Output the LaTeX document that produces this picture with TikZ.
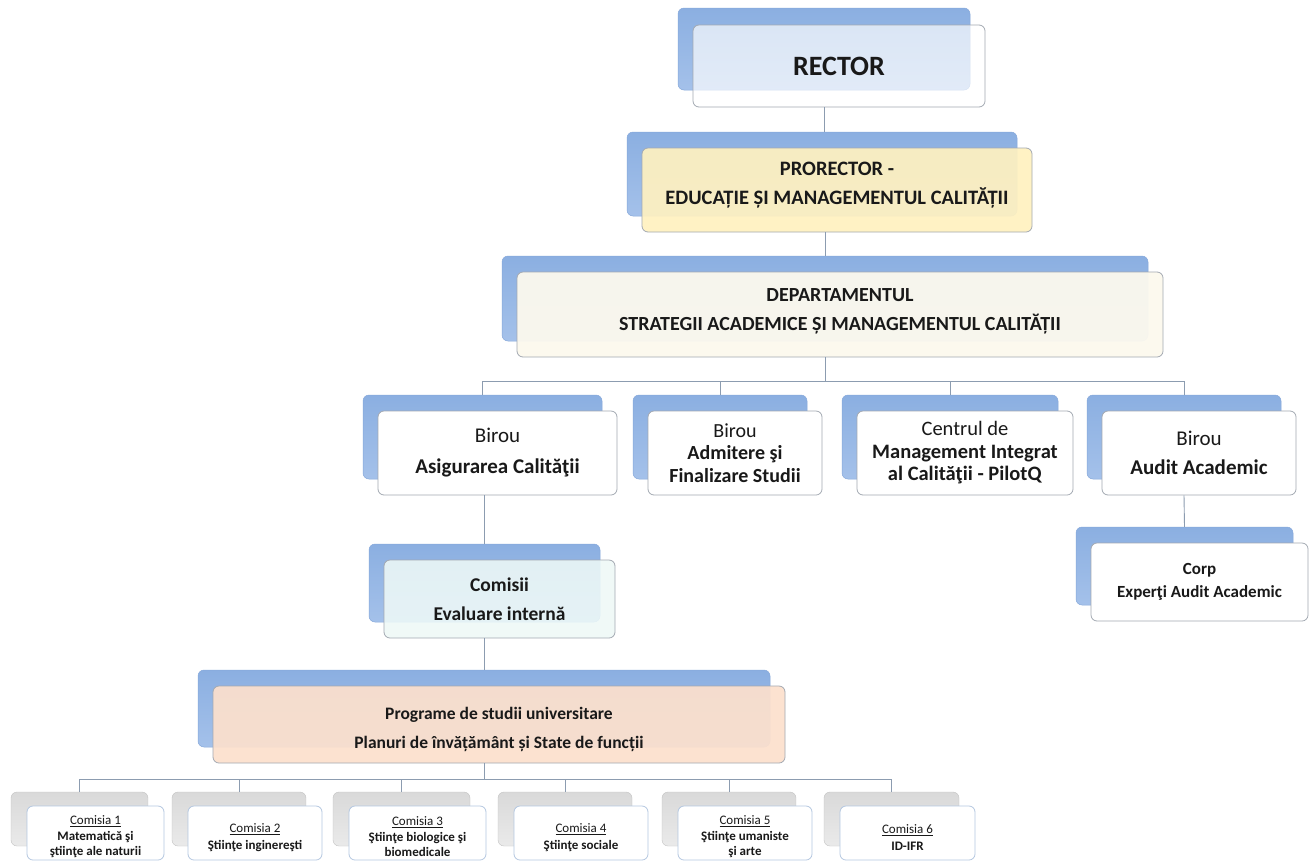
\documentclass[tikz,border=0pt]{standalone}
\usepackage{fontspec}
\setmainfont{Carlito}
\definecolor{bluetop}{HTML}{8BAFE1}
\definecolor{bluebot}{HTML}{A4C1EA}
\definecolor{blueedge}{HTML}{86A8DA}
\definecolor{graytop}{HTML}{D9D9D9}
\definecolor{graybot}{HTML}{EAEAEA}
\definecolor{frontedge}{HTML}{A3A9B2}
\definecolor{smalledge}{HTML}{B4C7E0}
\definecolor{connc}{HTML}{8C9CB0}
\definecolor{yellowf}{HTML}{FFF1C0}
\definecolor{creamf}{HTML}{FCF9EE}
\definecolor{cyanf}{HTML}{EEF9F7}
\definecolor{peachf}{HTML}{FCE0CD}
\newcommand\pushup[1]{\rule[-#1pt]{0pt}{1pt}}
\newcommand\pushdown[1]{\rule{0pt}{#1pt}}
\tikzset{
  backbox/.style={rectangle, rounded corners=6pt, draw=blueedge, line width=0.5pt,
    top color=bluetop, bottom color=bluebot, inner sep=0pt},
  graybackbox/.style={rectangle, rounded corners=6pt, draw=graytop!90!black, line width=0.4pt,
    top color=graytop, bottom color=graybot, inner sep=0pt},
  frontbox/.style={rectangle, rounded corners=6pt, draw=frontedge, line width=0.8pt,
    fill=white, align=center, inner sep=2pt, text=black!90},
  smallbox/.style={rectangle, rounded corners=6pt, draw=smalledge, line width=0.8pt,
    fill=white, align=center, inner sep=1pt, text=black!90},
  conn/.style={draw=connc, line width=0.9pt},
}
\begin{document}
\begin{tikzpicture}[x=1pt, y=-1pt]
\useasboundingbox (0,0) rectangle (1312,863);
\fill[white] (0,0) rectangle (1312,863);

% RECTOR
\node[backbox, minimum width=292pt, minimum height=82pt] (rectb) at (824,49) {};
\node[frontbox, fill=white, fill opacity=0.68, text opacity=1, minimum width=292pt, minimum height=82pt,
  font=\fontsize{28}{32}\selectfont\bfseries] (rect) at (839,66) {RECTOR};

% PRORECTOR
\node[backbox, minimum width=390pt, minimum height=84pt] (prob) at (822,174) {};
\node[frontbox, fill=yellowf, fill opacity=0.92, text opacity=1, minimum width=390pt, minimum height=84pt,
  font=\fontsize{20.5}{29}\selectfont\bfseries] (pro) at (837,190) {PRORECTOR -\\EDUCAȚIE ȘI MANAGEMENTUL CALITĂȚII\pushup{13}};

% DEPARTAMENTUL
\node[backbox, minimum width=646pt, minimum height=85pt] (depb) at (825,298.5) {};
\node[frontbox, fill=creamf, fill opacity=0.95, text opacity=1, minimum width=646pt, minimum height=85pt,
  font=\fontsize{20}{29}\selectfont\bfseries] (dep) at (840,314.5) {DEPARTAMENTUL\\STRATEGII ACADEMICE ȘI MANAGEMENTUL CALITĂȚII\pushup{10}};

% Level 3
\node[backbox, minimum width=239pt, minimum height=84pt] (asigb) at (482.5,437) {};
\node[frontbox, minimum width=239pt, minimum height=84pt, font=\fontsize{21}{31}\selectfont] (asig) at (497.5,453)
  {Birou\\\textbf{Asigurarea Calităţii}};

\node[backbox, minimum width=174pt, minimum height=84pt] (admb) at (720,437) {};
\node[frontbox, minimum width=174pt, minimum height=84pt, font=\fontsize{20}{22.5}\selectfont] (adm) at (735,453)
  {Birou\\\textbf{Admitere şi}\\\textbf{Finalizare Studii}};

\node[backbox, minimum width=216pt, minimum height=84pt] (centb) at (950,437) {};
\node[frontbox, minimum width=216pt, minimum height=84pt, font=\fontsize{20.5}{22.5}\selectfont] (cent) at (965,453)
  {Centrul de\\\textbf{Management Integrat}\\\textbf{al Calităţii - PilotQ}};

\node[backbox, minimum width=194pt, minimum height=84pt] (audb) at (1184,437) {};
\node[frontbox, minimum width=194pt, minimum height=84pt, font=\fontsize{21}{29}\selectfont] (aud) at (1199,453)
  {Birou\\\textbf{Audit Academic}};

% Corp
\node[backbox, minimum width=217pt, minimum height=78pt] (corpb) at (1184.5,566) {};
\node[frontbox, minimum width=217pt, minimum height=78pt, font=\fontsize{17}{23}\selectfont\bfseries] (corp) at (1199.5,582)
  {Corp\\Experţi Audit Academic};

% Comisii
\node[backbox, minimum width=231pt, minimum height=78pt] (comib) at (484.5,583) {};
\node[frontbox, fill=cyanf, fill opacity=0.88, text opacity=1, minimum width=231pt, minimum height=78pt,
  font=\fontsize{19.5}{29}\selectfont\bfseries] (comi) at (499.5,599) {Comisii\\Evaluare internă};

% Programe
\node[backbox, minimum width=572pt, minimum height=77pt] (progb) at (484,708.5) {};
\node[frontbox, fill=peachf, fill opacity=0.93, text opacity=1, minimum width=572pt, minimum height=77pt,
  font=\fontsize{17.5}{29}\selectfont\bfseries] (prog) at (499,724.5)
  {\pushdown{22}Programe de studii universitare\\Planuri de învățământ și State de funcții};

% Comisia boxes
\node[graybackbox, minimum width=137pt, minimum height=54pt] (c1b) at (79.5,819) {};
\node[smallbox, minimum width=137pt, minimum height=54pt, font=\fontsize{13}{15.5}\selectfont] (c1) at (95.5,833)
  {\pushdown{17}\underline{Comisia 1}\\\textbf{Matematică şi}\\\textbf{ştiinţe ale naturii}};
\node[graybackbox, minimum width=134pt, minimum height=54pt] (c2b) at (239,819) {};
\node[smallbox, minimum width=134pt, minimum height=54pt, font=\fontsize{13}{17}\selectfont] (c2) at (255,833)
  {\pushdown{18}\underline{Comisia 2}\\\textbf{Ştiinţe inginereşti}};
\node[graybackbox, minimum width=137pt, minimum height=54pt] (c3b) at (401.5,819) {};
\node[smallbox, minimum width=137pt, minimum height=54pt, font=\fontsize{13}{15.5}\selectfont] (c3) at (417.5,833)
  {\pushdown{17}\underline{Comisia 3}\\\textbf{Ştiinţe biologice şi}\\\textbf{biomedicale}};
\node[graybackbox, minimum width=134pt, minimum height=54pt] (c4b) at (565,819) {};
\node[smallbox, minimum width=134pt, minimum height=54pt, font=\fontsize{13}{17}\selectfont] (c4) at (581,833)
  {\pushdown{18}\underline{Comisia 4}\\\textbf{Ştiinţe sociale}};
\node[graybackbox, minimum width=134pt, minimum height=54pt] (c5b) at (729,819) {};
\node[smallbox, minimum width=134pt, minimum height=54pt, font=\fontsize{13}{15.5}\selectfont] (c5) at (745,833)
  {\pushdown{17}\underline{Comisia 5}\\\textbf{Ştiinţe umaniste}\\\textbf{şi arte}};
\node[graybackbox, minimum width=135pt, minimum height=54pt] (c6b) at (891.5,819) {};
\node[smallbox, minimum width=135pt, minimum height=54pt, font=\fontsize{13}{17}\selectfont] (c6) at (907.5,833)
  {\pushdown{18}\underline{Comisia 6}\\\textbf{ID-IFR}};

% junctions
\coordinate (j1) at (825,381);
\coordinate (j2) at (484,779);

% connectors
\draw[conn] (rectb |- rect.south) -- (rectb |- prob.north);
\draw[conn] (depb |- pro.south) -- (depb |- depb.north);
\draw[conn] (j1 |- dep.south) -- (j1);
\draw[conn] (asigb.north) |- (j1);
\draw[conn] (admb.north) |- (j1);
\draw[conn] (centb.north) |- (j1);
\draw[conn] (audb.north) |- (j1);
\draw[conn] (audb |- aud.south) -- (corpb.north);
\draw[conn] (comib |- asig.south) -- (comib.north);
\draw[conn] (progb |- comi.south) -- (progb.north);
\draw[conn] (j2 |- prog.south) -- (j2);
\draw[conn] (c1b.north) |- (j2);
\draw[conn] (c2b.north) |- (j2);
\draw[conn] (c3b.north) |- (j2);
\draw[conn] (c4b.north) |- (j2);
\draw[conn] (c5b.north) |- (j2);
\draw[conn] (c6b.north) |- (j2);
\end{tikzpicture}
\end{document}
